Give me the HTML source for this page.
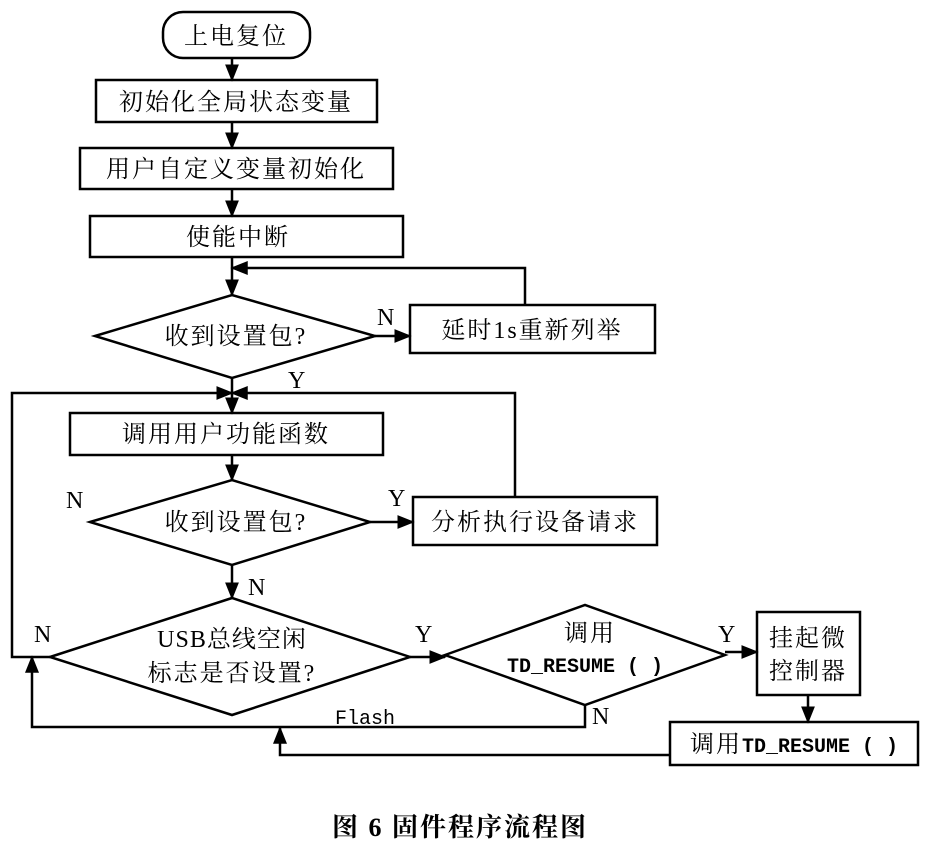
<!DOCTYPE html>
<html><head><meta charset="utf-8"><style>
html,body{margin:0;padding:0;background:#fff;}
svg{display:block;}
text{font-family:"Liberation Serif","Noto Serif CJK SC",serif;font-size:24px;fill:#000;letter-spacing:2px;}
</style></head><body>
<svg width="946" height="858" viewBox="0 0 946 858" xmlns="http://www.w3.org/2000/svg">
<defs><marker id="a" viewBox="0 0 10 10" refX="9" refY="5" markerWidth="7" markerHeight="7" orient="auto"><path d="M0,1 L10,5 L0,9 z" fill="#000"/></marker></defs>
<g stroke="#000" stroke-width="2.5" fill="none">
<rect x="163" y="12" width="147" height="46" rx="20"/>
<rect x="96" y="80" width="281" height="42"/>
<rect x="80" y="148" width="313" height="41"/>
<rect x="90" y="216" width="313" height="41"/>
<polygon points="95,336 232,295 375,336 232,378"/>
<rect x="410" y="305" width="245" height="48"/>
<rect x="70" y="413" width="313" height="42"/>
<polygon points="90,522 232,480 370,522 232,565"/>
<rect x="413" y="497" width="244" height="48"/>
<polygon points="50,657 232,598 410,657 232,715"/>
<polygon points="445,655 585,605 725,655 585,705"/>
<rect x="757" y="612" width="103" height="83"/>
<rect x="670" y="722" width="248" height="43"/>
<line x1="232" y1="58" x2="232" y2="80" marker-end="url(#a)"/>
<line x1="232" y1="122" x2="232" y2="148" marker-end="url(#a)"/>
<line x1="232" y1="189" x2="232" y2="216" marker-end="url(#a)"/>
<line x1="232" y1="257" x2="232" y2="295" marker-end="url(#a)"/>
<polyline points="525,305 525,268 232,268" marker-end="url(#a)"/>
<line x1="375" y1="336" x2="410" y2="336" marker-end="url(#a)"/>
<line x1="232" y1="378" x2="232" y2="413" marker-end="url(#a)"/>
<polyline points="50,657 12,657 12,393 232,393" marker-end="url(#a)"/>
<polyline points="515,497 515,393 232,393" marker-end="url(#a)"/>
<line x1="232" y1="455" x2="232" y2="480" marker-end="url(#a)"/>
<line x1="370" y1="522" x2="413" y2="522" marker-end="url(#a)"/>
<line x1="232" y1="565" x2="232" y2="598" marker-end="url(#a)"/>
<line x1="410" y1="657" x2="445" y2="657" marker-end="url(#a)"/>
<line x1="725" y1="652" x2="757" y2="652" marker-end="url(#a)"/>
<line x1="808" y1="695" x2="808" y2="722" marker-end="url(#a)"/>
<polyline points="585,705 585,727 32,727 32,657" marker-end="url(#a)"/>
<polyline points="670,755 280,755 280,728" marker-end="url(#a)"/>
</g>
<text x="236" y="44" text-anchor="middle">上电复位</text>
<text x="236" y="110" text-anchor="middle">初始化全局状态变量</text>
<text x="236" y="177" text-anchor="middle">用户自定义变量初始化</text>
<text x="238" y="245" text-anchor="middle">使能中断</text>
<text x="236" y="344" text-anchor="middle">收到设置包?</text>
<text x="532" y="338" text-anchor="middle">延时1s重新列举</text>
<text x="226" y="442" text-anchor="middle">调用用户功能函数</text>
<text x="236" y="530" text-anchor="middle">收到设置包?</text>
<text x="535" y="530" text-anchor="middle">分析执行设备请求</text>
<text x="232" y="647" text-anchor="middle" style="letter-spacing:1px">USB总线空闲</text>
<text x="232" y="681" text-anchor="middle">标志是否设置?</text>
<text x="590" y="641" text-anchor="middle">调用</text>
<text x="585" y="672" text-anchor="middle" style="font-family:'Liberation Mono',monospace;font-size:20px;font-weight:bold;letter-spacing:0">TD_RESUME ( )</text>
<text x="808" y="646" text-anchor="middle">挂起微</text>
<text x="808" y="679" text-anchor="middle">控制器</text>
<text x="794" y="752" text-anchor="middle">调用<tspan style="font-family:'Liberation Mono',monospace;font-size:20px;font-weight:bold;letter-spacing:0">TD_RESUME ( )</tspan></text>
<text x="377" y="325" font-size="20">N</text>
<text x="288" y="388" font-size="20">Y</text>
<text x="66" y="508" font-size="20">N</text>
<text x="388" y="506" font-size="20">Y</text>
<text x="248" y="595" font-size="20">N</text>
<text x="34" y="642" font-size="20">N</text>
<text x="415" y="642" font-size="20">Y</text>
<text x="718" y="642" font-size="20">Y</text>
<text x="335" y="724" style="font-family:'Liberation Mono',monospace;font-size:20px;letter-spacing:0">Flash</text>
<text x="592" y="724" font-size="20">N</text>
<text x="460" y="836" text-anchor="middle" style="font-size:26px;font-weight:bold">图 6  固件程序流程图</text>
</svg>
</body></html>
